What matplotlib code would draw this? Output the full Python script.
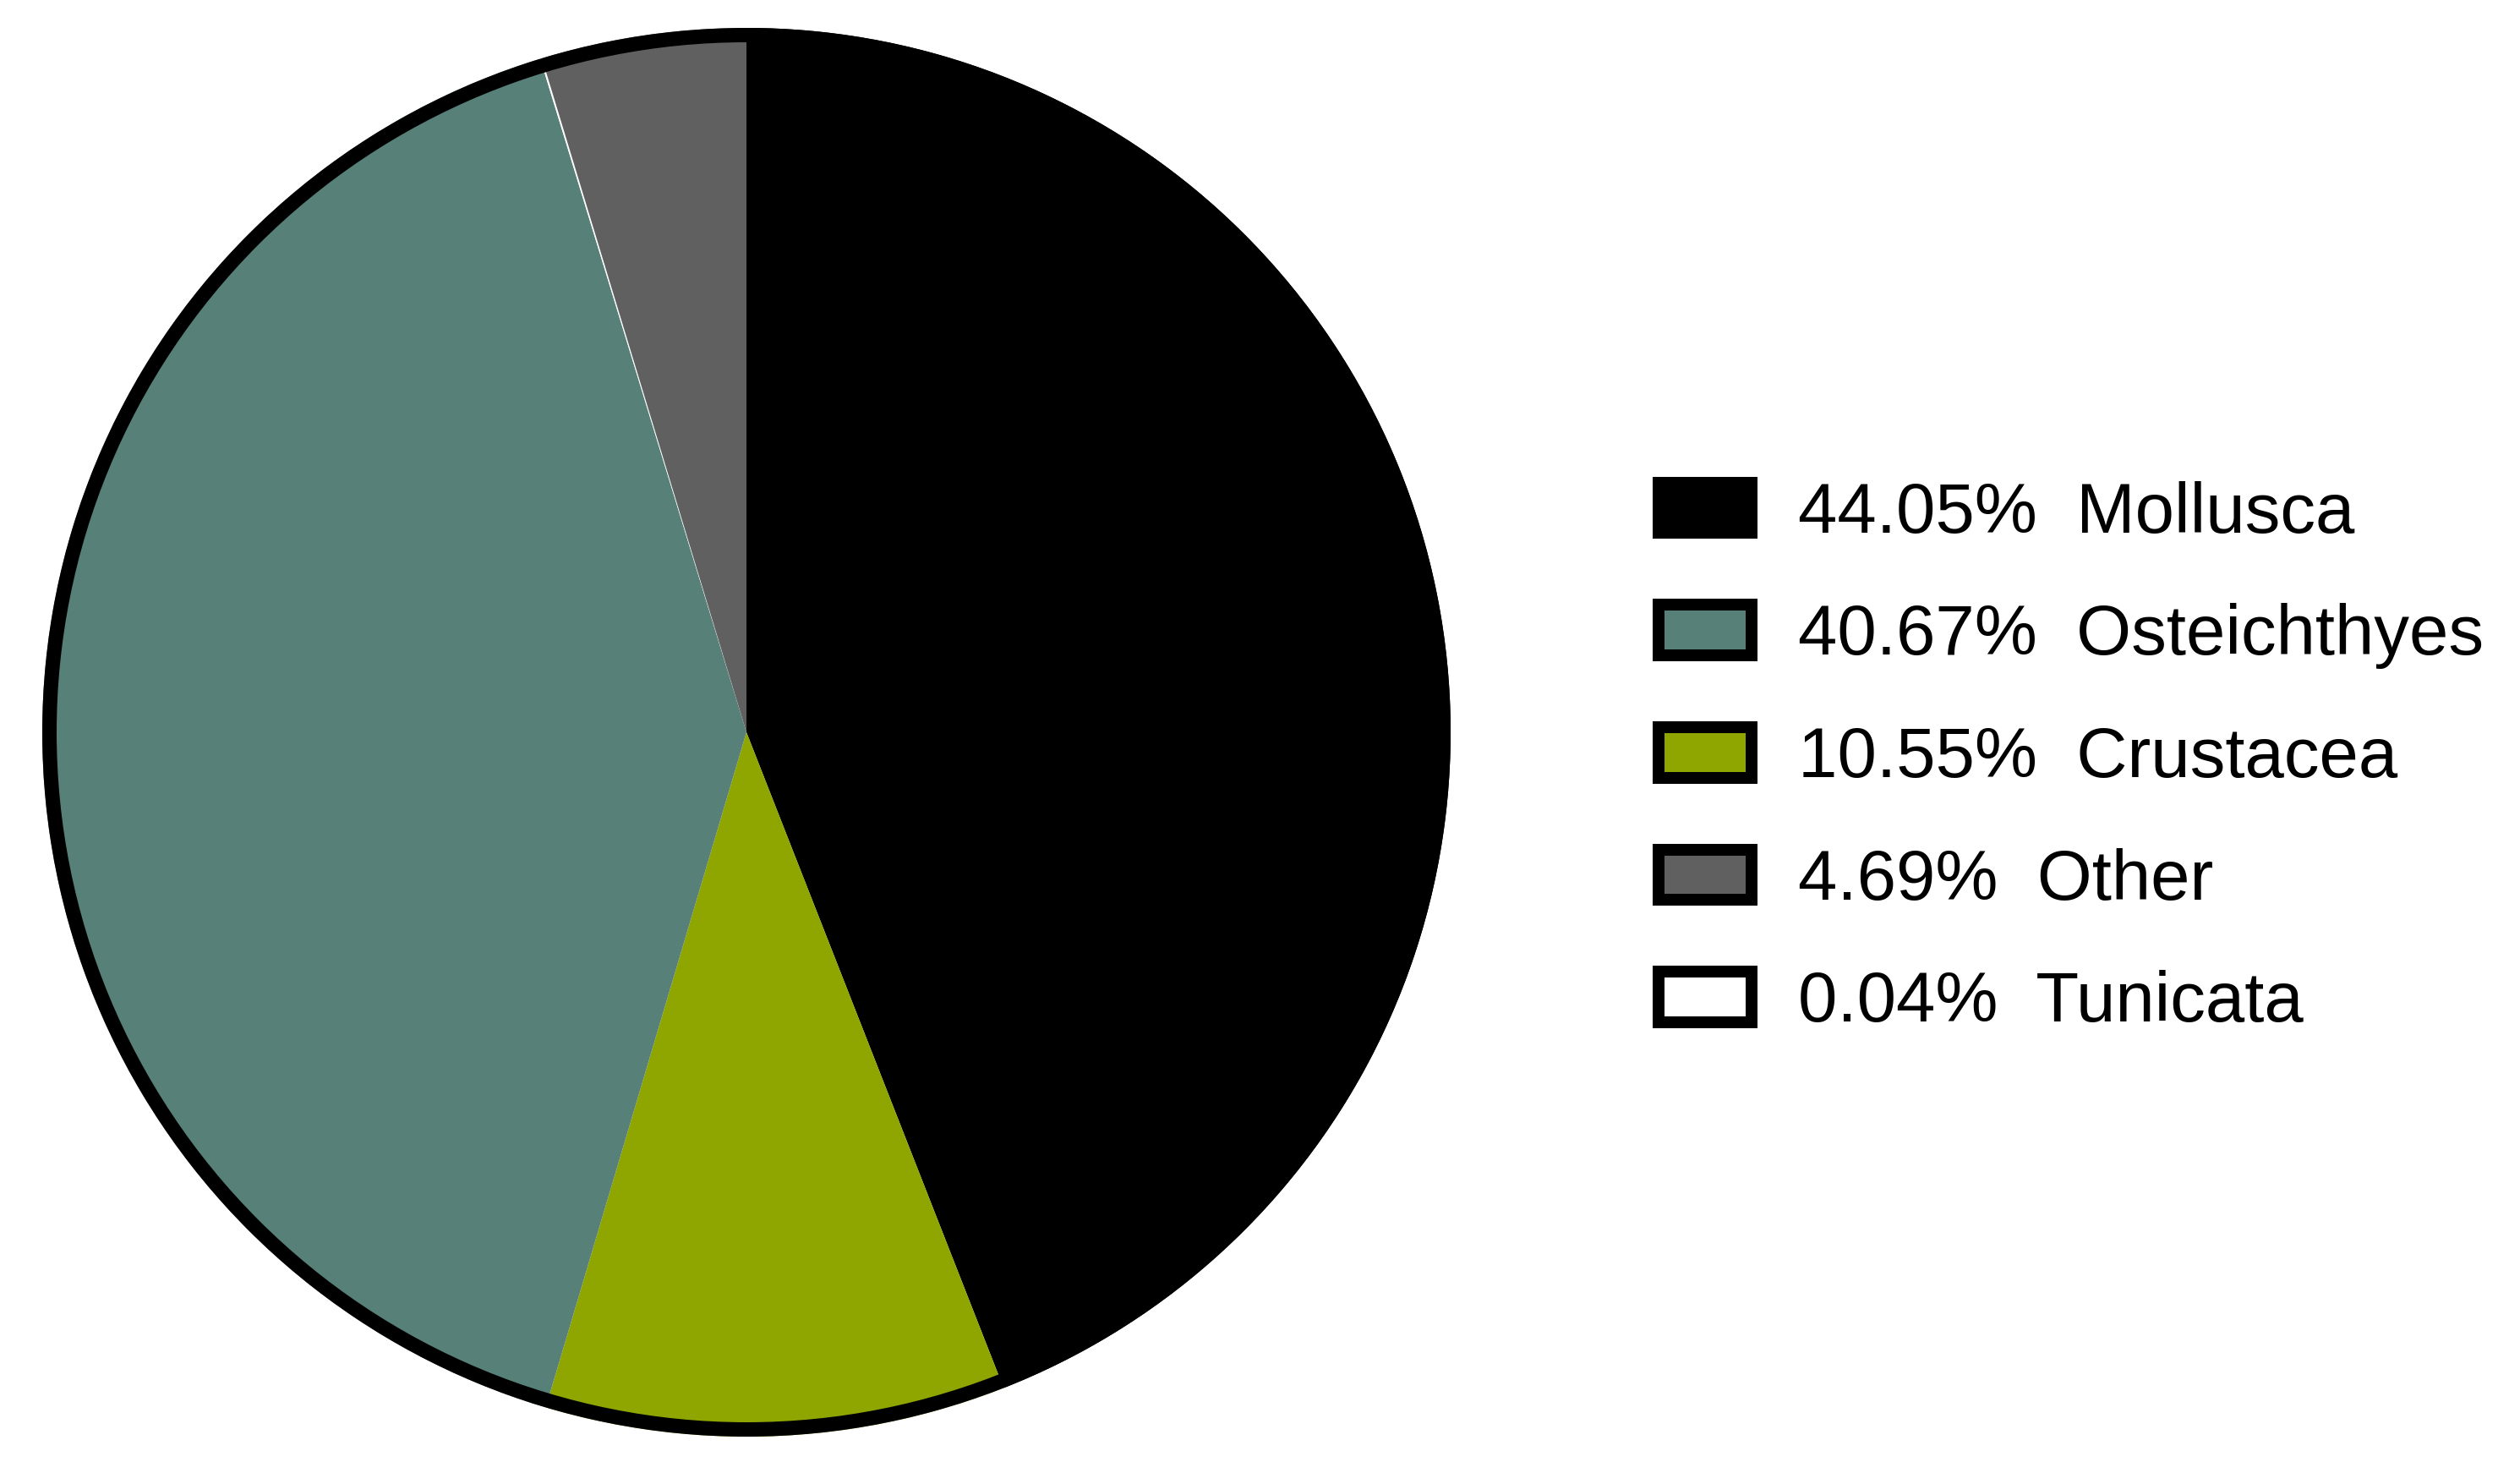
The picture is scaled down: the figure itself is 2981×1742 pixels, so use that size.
import matplotlib
matplotlib.use("Agg")
import matplotlib.pyplot as plt
from matplotlib.patches import Circle, Rectangle

plt.rcParams['font.family'] = ['Liberation Sans', 'DejaVu Sans']

# Data (clockwise from 12 o'clock, as in the reference)
categories = ["Mollusca", "Crustacea", "Osteichthyes", "Tunicata", "Other"]
values = [44.05, 10.55, 40.67, 0.04, 4.69]
colors = ["#000000", "#8fa600", "#568078", "#ffffff", "#606060"]

# Legend order
legend_order = ["Mollusca", "Osteichthyes", "Crustacea", "Other", "Tunicata"]

W, H = 2981, 1742
DPI = 100
fig = plt.figure(figsize=(W / DPI, H / DPI), dpi=DPI)
fig.patch.set_facecolor("white")

cx, cy, R = 883, 866, 833
ax = fig.add_axes([(cx - R) / W, (H - cy - R) / H, 2 * R / W, 2 * R / H])
ax.pie(values, colors=colors, startangle=90, counterclock=False, radius=1.0,
       wedgeprops=dict(linewidth=0, antialiased=True))
ring_px = 17
ax.add_patch(Circle((0, 0), 1.0 - (ring_px / 2) / R, fill=False, edgecolor="black",
                    linewidth=ring_px * 72 / DPI, zorder=5))
ax.set_xlim(-1, 1)
ax.set_ylim(-1, 1)
ax.set_aspect("equal")
ax.axis("off")

# Legend
edge_px = 14
handles = []
labels = []
for name in legend_order:
    i = categories.index(name)
    handles.append(Rectangle((0, 0), 1, 1, facecolor=colors[i], edgecolor="black",
                             linewidth=edge_px * 72 / DPI))
    labels.append(f"{values[i]:.2f}%  {name}")

fs = 60
fpx = fs * DPI / 72
fig.legend(handles, labels, loc="center left",
           bbox_to_anchor=((1955 + edge_px / 2) / W, 1 - 897 / H),
           frameon=False, fontsize=fs,
           handlelength=(124 - edge_px) / fpx, handleheight=(74 - edge_px) / fpx,
           handletextpad=0.66, labelspacing=0.80, borderpad=0, borderaxespad=0)

fig.savefig("out.png", dpi=DPI, facecolor="white")
